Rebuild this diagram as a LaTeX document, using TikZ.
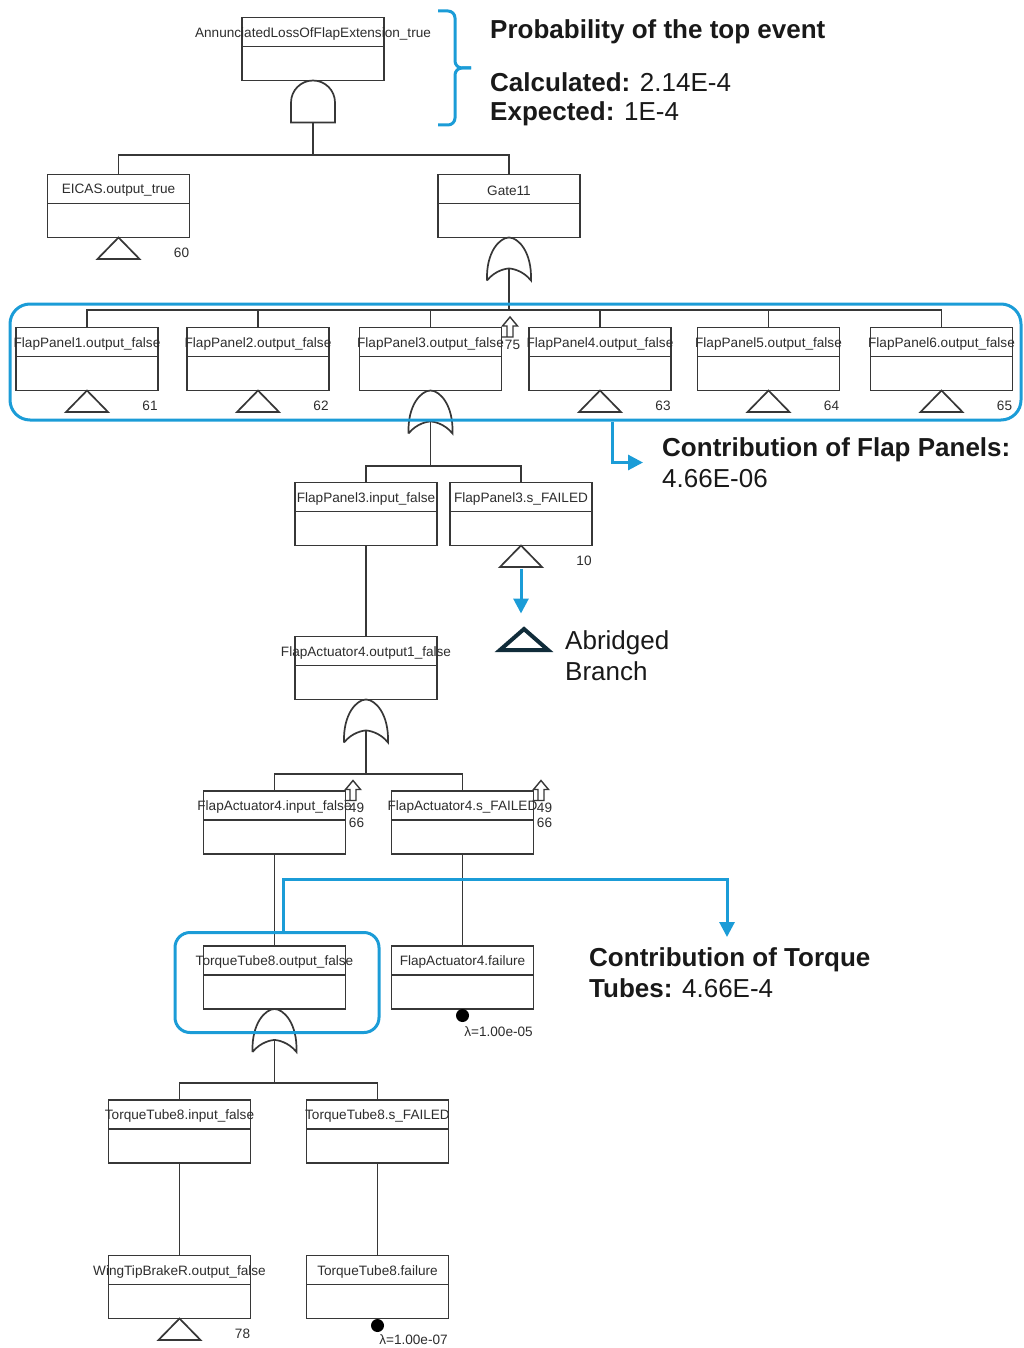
\documentclass[tikz,border=0pt]{standalone}
\usepackage{fontspec}
\setmainfont{Liberation Sans}
\usetikzlibrary{arrows.meta}
\definecolor{hlblue}{RGB}{27,156,215}
\definecolor{lncol}{RGB}{55,55,55}
\definecolor{txtcol}{RGB}{45,45,45}
\definecolor{navy}{RGB}{16,44,58}
\tikzset{
  wire/.style={draw=lncol, line width=1.7pt},
  evbox/.style={draw=lncol, line width=1.7pt, minimum width=142pt, minimum height=63pt,
    inner sep=0pt, outer sep=0pt,
    path picture={\draw[lncol, line width=1.7pt]
      ([yshift=-29pt]path picture bounding box.north west) --
      ([yshift=-29pt]path picture bounding box.north east);}},
  evtext/.style={font=\fontsize{13.6}{16}\selectfont, text=txtcol, inner sep=0pt},
  numtext/.style={font=\fontsize{13.6}{16}\selectfont, text=txtcol, inner sep=0pt},
  hlline/.style={draw=hlblue, line width=3pt},
  hlbox/.style={draw=hlblue, line width=3pt, rounded corners=20pt, inner sep=0pt},
  hlarrow/.style={hlline, -{Triangle[length=15pt,width=15pt]}},
  note/.style={font=\fontsize{26}{31}\selectfont, text=black!90, inner sep=0pt,
    anchor=west, align=left},
  orgate/.pic={
    \draw[wire] (-22,43) .. controls (-23,14) and (-9,0) .. (0,0)
      .. controls (9,0) and (23,14) .. (22,43)
      .. controls (14,33) and (3,31) .. (0,31)
      .. controls (-3,31) and (-14,33) .. (-22,43);
    \coordinate (-out) at (0,31);
  },
  andgate/.pic={
    \draw[wire] (-22,42) -- (-22,22) arc[start angle=180, end angle=360, radius=22]
      -- (22,42) -- cycle;
    \coordinate (-out) at (0,42);
  },
  undev/.pic={\draw[wire, line join=miter] (0,0) -- (21,21.5) -- (-21,21.5) -- cycle;},
  xferout/.pic={\draw[wire, line width=1.4pt] (-8.5,20) -- (3,20) -- (3,9) -- (7.5,9)
      -- (0,0) -- (-7.5,9) -- (-3,9) -- (-3,20);},
}
% event box with its name in the header strip
\newcommand{\evnode}[3]{%
  \node[evbox] (#1) at (#2) {};
  \node[evtext] (#1-t) at ([yshift=-16pt]#1.north) {#3};}

\begin{document}
\begin{tikzpicture}[x=1pt,y=-1pt]
\useasboundingbox (0,0) rectangle (1024,1348);

% ---------- events ----------
\evnode{top}{313,49}{AnnunciatedLossOfFlapExtension\_true}
\evnode{eicas}{118.5,206}{EICAS.output\_true}
\evnode{gate11}{509,206}{Gate11}
\evnode{fp1}{87,359}{FlapPanel1.output\_false}
\evnode{fp2}{258,359}{FlapPanel2.output\_false}
\evnode{fp3}{430.5,359}{FlapPanel3.output\_false}
\evnode{fp4}{600,359}{FlapPanel4.output\_false}
\evnode{fp5}{768.5,359}{FlapPanel5.output\_false}
\evnode{fp6}{941.5,359}{FlapPanel6.output\_false}
\evnode{fp3in}{366,514}{FlapPanel3.input\_false}
\evnode{fp3fail}{521,514}{FlapPanel3.s\_FAILED}
\evnode{fa4out}{366,668}{FlapActuator4.output1\_false}
\evnode{fa4in}{274.5,822.5}{FlapActuator4.input\_false}
\evnode{fa4fail}{462.5,822.5}{FlapActuator4.s\_FAILED}
\evnode{tt8out}{274.5,977.5}{TorqueTube8.output\_false}
\evnode{fa4f}{462.5,977.5}{FlapActuator4.failure}
\evnode{tt8in}{179.5,1131.5}{TorqueTube8.input\_false}
\evnode{tt8fail}{377.5,1131.5}{TorqueTube8.s\_FAILED}
\evnode{wtb}{179.5,1287}{WingTipBrakeR.output\_false}
\evnode{tt8f}{377.5,1287}{TorqueTube8.failure}

% ---------- gates ----------
\pic (ga) at (top.south) {andgate};
\pic (g11) at (gate11.south) {orgate};
\pic (gfp3) at (fp3.south) {orgate};
\pic (gfa4) at (fa4out.south) {orgate};
\pic (gtt8) at (tt8out.south) {orgate};

% ---------- connectors ----------
\coordinate (bus1) at (313,155);
\draw[wire] (ga-out) -- (bus1);
\draw[wire] (eicas.north) |- (bus1) -| (gate11.north);

\coordinate (bus2) at (509,310);
\draw[wire] (g11-out) -- (bus2);
\draw[wire] (fp1.north) |- (bus2) -| (fp6.north);
\foreach \i in {2,...,5} \draw[wire] (fp\i.north) -- (fp\i.north |- bus2);

\coordinate (bus3) at (430.5,466);
\draw[wire] (gfp3-out) -- (bus3);
\draw[wire] (fp3in.north) |- (bus3) -| (fp3fail.north);
\draw[wire] (fp3in.south) -- (fa4out.north);

\coordinate (bus4) at (366,774);
\draw[wire] (gfa4-out) -- (bus4);
\draw[wire] (fa4in.north) |- (bus4) -| (fa4fail.north);
\draw[wire] (fa4in.south) -- (tt8out.north);
\draw[wire] (fa4fail.south) -- (fa4f.north);

\coordinate (bus5) at (274.5,1083);
\draw[wire] (gtt8-out) -- (bus5);
\draw[wire] (tt8in.north) |- (bus5) -| (tt8fail.north);
\draw[wire] (tt8in.south) -- (wtb.north);
\draw[wire] (tt8fail.south) -- (tt8f.north);

% ---------- undeveloped / transfer symbols ----------
\foreach \n/\num in {eicas/60, fp1/61, fp2/62, fp4/63, fp5/64, fp6/65, fp3fail/10, wtb/78}{
  \pic at (\n.south) {undev};
  \node[numtext] (num-\n) at ([xshift=63pt,yshift=-15.5pt]\n.south) {\num};
}
\pic at ([xshift=8.5pt,yshift=10.5pt]fp3.north east) {xferout};
\node[numtext] (x75) at ([xshift=11pt,yshift=-17.5pt]fp3.north east) {75};
\foreach \n in {fa4in, fa4fail}{
  \pic at ([xshift=7.5pt,yshift=10.5pt]\n.north east) {xferout};
  \node[numtext] (xa-\n) at ([xshift=11pt,yshift=-17pt]\n.north east) {49};
  \node[numtext] (xb-\n) at ([xshift=11pt,yshift=-32pt]\n.north east) {66};
}

% ---------- basic events ----------
\fill[black] ([yshift=-6.5pt]fa4f.south) circle[radius=6.5pt];
\node[numtext] (lam1) at ([xshift=36pt,yshift=-22.5pt]fa4f.south) {λ=1.00e-05};
\fill[black] ([yshift=-7pt]tt8f.south) circle[radius=6.5pt];
\node[numtext] (lam2) at ([xshift=36pt,yshift=-21.5pt]tt8f.south) {λ=1.00e-07};

% ---------- highlights ----------
\node[hlbox, minimum width=1011pt, minimum height=116pt] (pnl) at (515.5,362) {};
\node[hlbox, rounded corners=15pt, minimum width=204pt, minimum height=100pt] (ttb) at (277,982.5) {};

\draw[hlline, rounded corners=7pt] (438,11) -| (455,68) -- (471,68);
\draw[hlline, rounded corners=7pt] (438,125) -| (455,68) -- (471,68);

% ---------- notes ----------
\node[note] (ptop) at (490,32) {\bfseries Probability of the top event};
\node[note] (calc) at (490,82) {{\bfseries Calculated:} 2.14E-4};
\node[note] (expd) at (490,114) {{\bfseries Expected:} 1E-4};
\node[note] (cfp) at (662,462.5) {{\bfseries Contribution of Flap Panels:}\\4.66E-06};
\node[note] (abr) at (565,655.5) {Abridged\\Branch};
\node[note] (ctt) at (589,973) {{\bfseries Contribution of Torque}\\{\bfseries Tubes:} 4.66E-4};

\draw[navy, line width=4pt, line join=miter] (524,629) -- (548,650) -- (500,650) -- cycle;

\draw[hlarrow] ([xshift=96.5pt]pnl.south) |- ([xshift=-19pt]cfp.west);
\draw[hlarrow] ([yshift=-23pt]fp3fail.south) -- ([yshift=-68pt]fp3fail.south);
\coordinate (tip2) at (727,937);
\draw[hlarrow] ([xshift=6pt]ttb.north) -- ++(0,-52) -| (tip2);

\end{tikzpicture}
\end{document}
